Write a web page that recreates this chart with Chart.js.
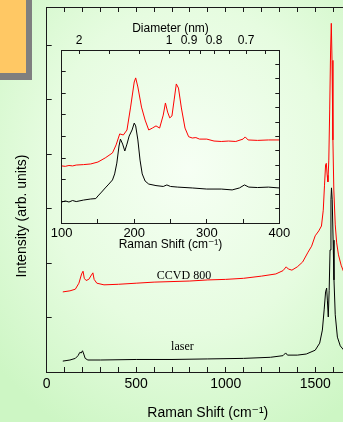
<!DOCTYPE html>
<html>
<head>
<meta charset="utf-8">
<script src="https://cdn.jsdelivr.net/npm/chart.js@4.4.1/dist/chart.umd.min.js"></script>
<style>
html, body { margin: 0; padding: 0; width: 343px; height: 422px; overflow: hidden; }
body { position: relative; background: radial-gradient(ellipse 75% 70% at 55% 40%, #f6fff4 0%, #e6fce0 55%, #cdf6c4 100%); }
#tab { position: absolute; left: -20px; top: -20px; width: 46px; height: 93px; background: #ffc864; box-shadow: 6px 7px 0 #7f7f7f; }
#main, #inset { position: absolute; left: 0; top: 0; }
</style>
</head>
<body>
<div id="tab"></div>
<canvas id="main" width="380" height="422"></canvas>
<canvas id="inset" width="300" height="256"></canvas>
<script>
// main spectra
const ccvdShift = [90,130,160,180,195,203,210,220,235,250,258,265,280,320,400,500,600,700,800,900,1000,1100,1200,1280,1320,1338,1350,1370,1400,1430,1460,1480,1500,1520,1535,1545,1552,1558,1562,1567,1571,1576,1581,1586,1590,1594,1599,1604,1612,1620,1630,1645,1660,1700,1800];
const ccvdIntensity = [1.47,1.49,1.52,1.63,1.80,1.85,1.72,1.68,1.70,1.78,1.82,1.70,1.63,1.60,1.61,1.63,1.65,1.66,1.67,1.69,1.70,1.72,1.76,1.80,1.86,1.93,1.89,1.87,1.93,2.02,2.20,2.31,2.50,2.59,2.68,2.97,3.43,3.80,3.83,3.61,3.49,3.89,4.81,5.91,6.40,5.72,4.26,3.34,2.70,2.37,2.15,1.96,1.83,1.69,1.55];
const laserShift = [90,130,160,175,185,193,200,207,215,230,300,500,700,900,1100,1250,1320,1335,1345,1400,1450,1500,1525,1540,1550,1558,1564,1568,1573,1578,1583,1588,1591,1595,1600,1605,1612,1624,1640,1660,1700,1800];
const laserIntensity = [0.20,0.22,0.25,0.30,0.36,0.35,0.39,0.33,0.25,0.22,0.22,0.23,0.23,0.24,0.25,0.27,0.30,0.35,0.31,0.31,0.33,0.40,0.53,0.77,1.14,1.47,1.54,1.32,1.01,1.50,2.24,3.16,3.38,3.16,2.42,1.69,1.05,0.64,0.48,0.40,0.31,0.25];

// inset (RBM region)
const insetCcvdShift = [100,105,110,115,120,130,140,150,160,170,175,180,185,190,195,200,202,205,210,215,220,225,230,235,240,243,246,249,252,255,258,261,265,270,275,280,285,290,300,310,320,330,340,350,353,357,370,385,400];
const insetCcvdIntensity = [2.64,2.62,2.66,2.64,2.68,2.70,2.73,2.82,3.01,3.24,3.61,4.12,4.07,4.30,5.36,6.52,6.71,6.29,5.36,4.76,4.30,4.39,4.49,4.39,4.99,5.55,5.13,4.86,4.95,5.69,6.43,6.24,5.32,4.39,3.99,3.93,3.95,3.88,3.88,3.79,3.77,3.79,3.77,3.88,3.98,3.84,3.82,3.84,3.84];
const insetLaserShift = [100,105,110,115,120,130,140,147,150,155,160,165,170,173,176,179,181,184,187,190,193,197,200,202,205,208,211,215,220,230,240,245,250,260,280,300,320,335,345,352,358,370,385,400];
const insetLaserIntensity = [0.97,1.02,0.97,1.04,0.99,1.06,1.11,1.13,1.25,1.43,1.62,1.80,1.99,2.27,2.77,3.56,3.88,3.65,3.33,3.65,4.02,4.30,4.62,4.49,3.84,2.91,2.27,1.94,1.80,1.73,1.69,1.76,1.69,1.66,1.62,1.57,1.57,1.53,1.62,1.76,1.66,1.64,1.66,1.62];

// top axis of the inset: diameter (nm), omega = 248 / d
const diameterTicks = [2, 1.5, 1.2, 1, 0.9, 0.85, 0.8, 0.75, 0.7, 0.65];
const diameterTickLabels = ['2', '', '', '1', '0.9', '', '0.8', '', '0.7', ''];

// curve labels
const curveLabels = ['CCVD 800', 'laser'];
const curveLabelShift = [767, 758];
const curveLabelIntensity = [1.77, 0.46];

Chart.defaults.font.family = "'Liberation Sans', Arial, 'DejaVu Sans', sans-serif";
Chart.defaults.color = '#000';

const AXIS = '#1a1a1a';

function toPoints(xs, ys) {
    return xs.map((x, i) => ({x: x, y: ys[i]}));
}

function lineSet(xs, ys, color) {
    return {
        data: toPoints(xs, ys),
        borderColor: color,
        borderWidth: 1,
        pointRadius: 0,
        tension: 0,
        fill: false
    };
}

function axisGrid(len) {
    return {drawOnChartArea: false, drawTicks: true, tickLength: len, color: AXIS, tickWidth: 1};
}

const onlyIntegers = s => { s.ticks = s.ticks.filter(t => Number.isInteger(t.value)); };

//labels drawn on the main plot
const mainText = {
    id: 'mainText',
    afterDatasetsDraw(chart) {
        const ctx = chart.ctx;
        ctx.save();
        ctx.fillStyle = '#000';
        ctx.textAlign = 'center';
        ctx.textBaseline = 'middle';
        ctx.font = "12px 'Liberation Serif', 'Times New Roman', serif";
        curveLabels.forEach((t, i) => {
            ctx.fillText(t,
                chart.scales.x.getPixelForValue(curveLabelShift[i]),
                chart.scales.y.getPixelForValue(curveLabelIntensity[i]));
        });
        ctx.font = "14px 'Liberation Sans', Arial, sans-serif";
        ctx.translate(22, 216);
        ctx.rotate(-Math.PI / 2);
        ctx.fillText('Intensity (arb. units)', 0, 0);
        ctx.restore();
    }
};

const commonOptions = {
    responsive: false,
    animation: false,
    devicePixelRatio: 1,
    events: [],
    plugins: {legend: {display: false}, tooltip: {enabled: false}}
};

//main chart
new Chart(document.getElementById('main'), {
    type: 'line',
    data: {
        datasets: [
            lineSet(ccvdShift, ccvdIntensity, '#ff0000'),
            lineSet(laserShift, laserIntensity, '#000000')
        ]
    },
    options: Object.assign({}, commonOptions, {
        layout: {padding: {left: 0, top: 0, bottom: 0, right: 11.1}},
        scales: {
            x: {
                type: 'linear', position: 'bottom', min: 0, max: 1800,
                ticks: {
                    stepSize: 100, autoSkip: false, maxRotation: 0, minRotation: 0,
                    padding: 8.6, font: {size: 14},
                    callback: v => (v % 500 === 0 ? String(v) : '')
                },
                grid: axisGrid(-5),
                border: {display: true, color: AXIS, width: 1},
                title: {display: true, text: 'Raman Shift (cm\u207B\u00B9)', font: {size: 14}, padding: {top: 0, bottom: 0}},
                afterFit: s => { s.height = 50; }
            },
            x2: {
                type: 'linear', position: 'top', min: 0, max: 1800,
                ticks: {display: false, stepSize: 100, autoSkip: false},
                grid: axisGrid(-5),
                border: {display: true, color: AXIS, width: 1},
                afterFit: s => { s.height = 7; }
            },
            y: {
                type: 'linear', position: 'left', min: 0, max: 6.7,
                ticks: {display: false, stepSize: 1},
                afterBuildTicks: onlyIntegers,
                grid: axisGrid(-5),
                border: {display: true, color: AXIS, width: 1},
                afterFit: s => { s.width = 46.7; }
            }
        }
    }),
    plugins: [mainText]
});

//inset chart
new Chart(document.getElementById('inset'), {
    type: 'line',
    data: {
        datasets: [
            lineSet(insetCcvdShift, insetCcvdIntensity, '#ff0000'),
            lineSet(insetLaserShift, insetLaserIntensity, '#000000')
        ]
    },
    options: Object.assign({}, commonOptions, {
        layout: {padding: 0},
        scales: {
            x: {
                type: 'linear', position: 'bottom', min: 100, max: 400,
                ticks: {
                    stepSize: 50, autoSkip: false, maxRotation: 0, minRotation: 0,
                    padding: 6.2, font: {size: 13},
                    callback: v => (v % 100 === 0 ? String(v) : '')
                },
                grid: axisGrid(-4),
                border: {display: true, color: AXIS, width: 1},
                title: {display: true, text: 'Raman Shift (cm\u207B\u00B9)', font: {size: 12}, padding: {top: 0, bottom: 3.8}},
                afterFit: s => { s.height = 33; }
            },
            x2: {
                type: 'linear', position: 'top', min: 100, max: 400,
                afterBuildTicks: s => { s.ticks = diameterTicks.map(d => ({value: 248 / d})); },
                ticks: {
                    autoSkip: false, maxRotation: 0, minRotation: 0,
                    padding: 5.8, font: {size: 12},
                    callback: (v, i) => diameterTickLabels[i]
                },
                grid: axisGrid(-4),
                border: {display: true, color: AXIS, width: 1},
                title: {display: true, text: 'Diameter (nm)', font: {size: 12}, padding: {top: 21.3, bottom: 0}},
                afterFit: s => { s.height = 50; }
            },
            y: {
                type: 'linear', position: 'left', min: 0, max: 8,
                ticks: {display: false, stepSize: 1},
                grid: axisGrid(-4),
                border: {display: true, color: AXIS, width: 1},
                afterFit: s => { s.width = 61.7; }
            },
            y2: {
                type: 'linear', position: 'right', min: 0, max: 12,
                ticks: {display: false, stepSize: 1},
                grid: axisGrid(-4),
                border: {display: true, color: AXIS, width: 1},
                afterFit: s => { s.width = 20.7; }
            }
        }
    })
});
</script>
</body>
</html>
